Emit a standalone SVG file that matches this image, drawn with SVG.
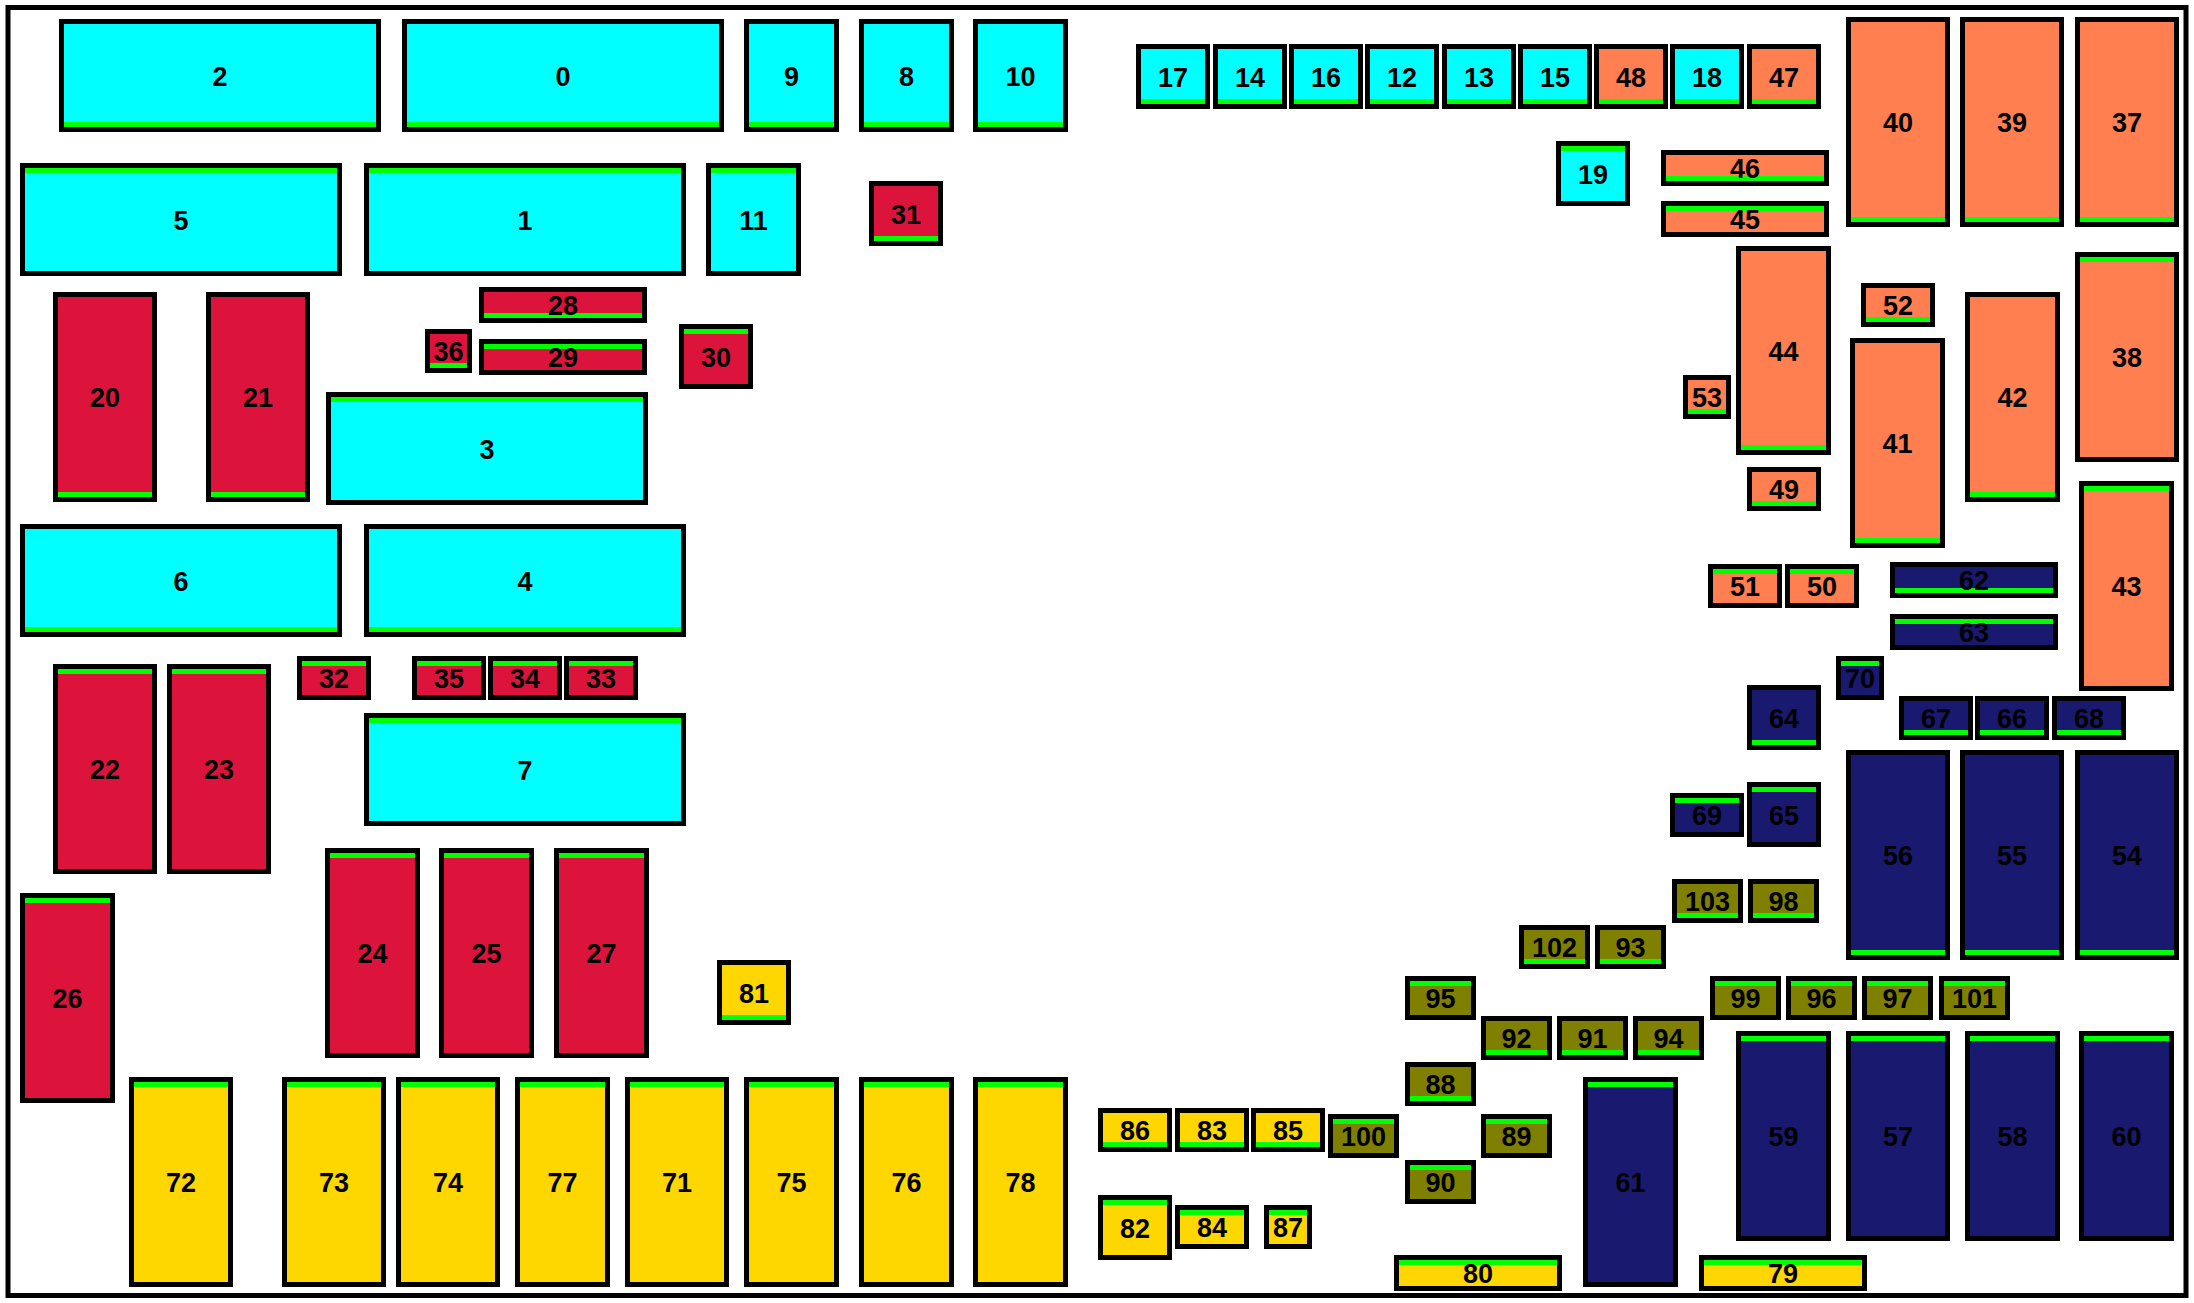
<svg xmlns="http://www.w3.org/2000/svg" width="2194" height="1303" viewBox="0 0 2194 1303">
<style>
.b{stroke:#000;stroke-width:5}
.c{fill:#00FFFF}.r{fill:#DC143C}.o{fill:#FF7F50}.n{fill:#191970}.v{fill:#808000}.y{fill:#FFD700}
.g{fill:#00FF00}
text{font-family:"Liberation Sans",Arial,sans-serif;font-weight:bold;font-size:27px;text-anchor:middle;fill:#000}
</style>
<rect x="0" y="0" width="2194" height="1303" fill="#fff"/>
<rect id="frame" x="8" y="7.5" width="2178" height="1288" fill="none" stroke="#000" stroke-width="5"/>
<g id="connectors"/>
<g id="nodes">
<g id="n2"><rect class="b c" x="61.5" y="21.5" width="317" height="108"/><rect class="g" x="64" y="122" width="312" height="5"/><text x="220" y="85.5">2</text></g>
<g id="n0"><rect class="b c" x="404.5" y="21.5" width="317" height="108"/><rect class="g" x="407" y="122" width="312" height="5"/><text x="563" y="85.5">0</text></g>
<g id="n9"><rect class="b c" x="746.5" y="21.5" width="90" height="108"/><rect class="g" x="749" y="122" width="85" height="5"/><text x="791.5" y="85.5">9</text></g>
<g id="n8"><rect class="b c" x="861.5" y="21.5" width="90" height="108"/><rect class="g" x="864" y="122" width="85" height="5"/><text x="906.5" y="85.5">8</text></g>
<g id="n10"><rect class="b c" x="975.5" y="21.5" width="90" height="108"/><rect class="g" x="978" y="122" width="85" height="5"/><text x="1020.5" y="85.5">10</text></g>
<g id="n5"><rect class="b c" x="22.5" y="165.5" width="317" height="108"/><rect class="g" x="25" y="168" width="312" height="5"/><text x="181" y="229.5">5</text></g>
<g id="n1"><rect class="b c" x="366.5" y="165.5" width="317" height="108"/><rect class="g" x="369" y="168" width="312" height="5"/><text x="525" y="229.5">1</text></g>
<g id="n11"><rect class="b c" x="708.5" y="165.5" width="90" height="108"/><rect class="g" x="711" y="168" width="85" height="5"/><text x="753.5" y="229.5">11</text></g>
<g id="n3"><rect class="b c" x="328.5" y="394.5" width="317" height="108"/><rect class="g" x="331" y="397" width="312" height="5"/><text x="487" y="458.5">3</text></g>
<g id="n6"><rect class="b c" x="22.5" y="526.5" width="317" height="108"/><rect class="g" x="25" y="627" width="312" height="5"/><text x="181" y="590.5">6</text></g>
<g id="n4"><rect class="b c" x="366.5" y="526.5" width="317" height="108"/><rect class="g" x="369" y="627" width="312" height="5"/><text x="525" y="590.5">4</text></g>
<g id="n7"><rect class="b c" x="366.5" y="715.5" width="317" height="108"/><rect class="g" x="369" y="718" width="312" height="5"/><text x="525" y="779.5">7</text></g>
<g id="n17"><rect class="b c" x="1138.5" y="46.5" width="69" height="60"/><rect class="g" x="1141" y="99" width="64" height="5"/><text x="1173" y="86.5">17</text></g>
<g id="n14"><rect class="b c" x="1215.5" y="46.5" width="69" height="60"/><rect class="g" x="1218" y="99" width="64" height="5"/><text x="1250" y="86.5">14</text></g>
<g id="n16"><rect class="b c" x="1291.5" y="46.5" width="69" height="60"/><rect class="g" x="1294" y="99" width="64" height="5"/><text x="1326" y="86.5">16</text></g>
<g id="n12"><rect class="b c" x="1367.5" y="46.5" width="69" height="60"/><rect class="g" x="1370" y="99" width="64" height="5"/><text x="1402" y="86.5">12</text></g>
<g id="n13"><rect class="b c" x="1444.5" y="46.5" width="69" height="60"/><rect class="g" x="1447" y="99" width="64" height="5"/><text x="1479" y="86.5">13</text></g>
<g id="n15"><rect class="b c" x="1520.5" y="46.5" width="69" height="60"/><rect class="g" x="1523" y="99" width="64" height="5"/><text x="1555" y="86.5">15</text></g>
<g id="n48"><rect class="b o" x="1596.5" y="46.5" width="69" height="60"/><rect class="g" x="1599" y="99" width="64" height="5"/><text x="1631" y="86.5">48</text></g>
<g id="n18"><rect class="b c" x="1672.5" y="46.5" width="69" height="60"/><rect class="g" x="1675" y="99" width="64" height="5"/><text x="1707" y="86.5">18</text></g>
<g id="n47"><rect class="b o" x="1749.5" y="46.5" width="69" height="60"/><rect class="g" x="1752" y="99" width="64" height="5"/><text x="1784" y="86.5">47</text></g>
<g id="n19"><rect class="b c" x="1558.5" y="143.5" width="69" height="60"/><rect class="g" x="1561" y="146" width="64" height="5"/><text x="1593" y="183.5">19</text></g>

<g id="n31"><rect class="b r" x="871.5" y="183.5" width="69" height="60"/><rect class="g" x="874" y="236" width="64" height="5"/><text x="906" y="223.5">31</text></g>
<g id="n20"><rect class="b r" x="55.5" y="294.5" width="99" height="205"/><rect class="g" x="58" y="492" width="94" height="5"/><text x="105" y="407">20</text></g>
<g id="n21"><rect class="b r" x="208.5" y="294.5" width="99" height="205"/><rect class="g" x="211" y="492" width="94" height="5"/><text x="258" y="407">21</text></g>
<g id="n28"><rect class="b r" x="481.5" y="289.5" width="163" height="31"/><rect class="g" x="484" y="313" width="158" height="5"/><text x="563" y="315">28</text></g>
<g id="n36"><rect class="b r" x="427.5" y="331.5" width="42" height="39"/><rect class="g" x="430" y="363" width="37" height="5"/><text x="448.5" y="361">36</text></g>
<g id="n29"><rect class="b r" x="481.5" y="341.5" width="163" height="31"/><rect class="g" x="484" y="344" width="158" height="5"/><text x="563" y="367">29</text></g>
<g id="n30"><rect class="b r" x="681.5" y="326.5" width="69" height="60"/><rect class="g" x="684" y="329" width="64" height="5"/><text x="716" y="366.5">30</text></g>
<g id="n22"><rect class="b r" x="55.5" y="666.5" width="99" height="205"/><rect class="g" x="58" y="669" width="94" height="5"/><text x="105" y="779">22</text></g>
<g id="n23"><rect class="b r" x="169.5" y="666.5" width="99" height="205"/><rect class="g" x="172" y="669" width="94" height="5"/><text x="219" y="779">23</text></g>
<g id="n32"><rect class="b r" x="299.5" y="658.5" width="69" height="39"/><rect class="g" x="302" y="661" width="64" height="5"/><text x="334" y="688">32</text></g>
<g id="n35"><rect class="b r" x="414.5" y="658.5" width="69" height="39"/><rect class="g" x="417" y="661" width="64" height="5"/><text x="449" y="688">35</text></g>
<g id="n34"><rect class="b r" x="490.5" y="658.5" width="69" height="39"/><rect class="g" x="493" y="661" width="64" height="5"/><text x="525" y="688">34</text></g>
<g id="n33"><rect class="b r" x="566.5" y="658.5" width="69" height="39"/><rect class="g" x="569" y="661" width="64" height="5"/><text x="601" y="688">33</text></g>
<g id="n24"><rect class="b r" x="327.5" y="850.5" width="90" height="205"/><rect class="g" x="330" y="853" width="85" height="5"/><text x="372.5" y="963">24</text></g>
<g id="n25"><rect class="b r" x="441.5" y="850.5" width="90" height="205"/><rect class="g" x="444" y="853" width="85" height="5"/><text x="486.5" y="963">25</text></g>
<g id="n27"><rect class="b r" x="556.5" y="850.5" width="90" height="205"/><rect class="g" x="559" y="853" width="85" height="5"/><text x="601.5" y="963">27</text></g>
<g id="n26"><rect class="b r" x="22.5" y="895.5" width="90" height="205"/><rect class="g" x="25" y="898" width="85" height="5"/><text x="67.5" y="1008">26</text></g>

<g id="n46"><rect class="b o" x="1663.5" y="152.5" width="163" height="31"/><rect class="g" x="1666" y="176" width="158" height="5"/><text x="1745" y="178">46</text></g>
<g id="n45"><rect class="b o" x="1663.5" y="203.5" width="163" height="31"/><rect class="g" x="1666" y="206" width="158" height="5"/><text x="1745" y="229">45</text></g>
<g id="n40"><rect class="b o" x="1848.5" y="19.5" width="99" height="205"/><rect class="g" x="1851" y="217" width="94" height="5"/><text x="1898" y="132">40</text></g>
<g id="n39"><rect class="b o" x="1962.5" y="19.5" width="99" height="205"/><rect class="g" x="1965" y="217" width="94" height="5"/><text x="2012" y="132">39</text></g>
<g id="n37"><rect class="b o" x="2077.5" y="19.5" width="99" height="205"/><rect class="g" x="2080" y="217" width="94" height="5"/><text x="2127" y="132">37</text></g>
<g id="n44"><rect class="b o" x="1738.5" y="248.5" width="90" height="204"/><rect class="g" x="1741" y="445" width="85" height="5"/><text x="1783.5" y="360.5">44</text></g>
<g id="n53"><rect class="b o" x="1685.5" y="377.5" width="43" height="39"/><rect class="g" x="1688" y="409" width="38" height="5"/><text x="1707" y="407">53</text></g>
<g id="n52"><rect class="b o" x="1863.5" y="285.5" width="69" height="39"/><rect class="g" x="1866" y="317" width="64" height="5"/><text x="1898" y="315">52</text></g>
<g id="n41"><rect class="b o" x="1852.5" y="340.5" width="90" height="205"/><rect class="g" x="1855" y="538" width="85" height="5"/><text x="1897.5" y="453">41</text></g>
<g id="n42"><rect class="b o" x="1967.5" y="294.5" width="90" height="205"/><rect class="g" x="1970" y="492" width="85" height="5"/><text x="2012.5" y="407">42</text></g>
<g id="n38"><rect class="b o" x="2077.5" y="254.5" width="99" height="205"/><rect class="g" x="2080" y="257" width="94" height="5"/><text x="2127" y="367">38</text></g>
<g id="n43"><rect class="b o" x="2081.5" y="483.5" width="90" height="205"/><rect class="g" x="2084" y="486" width="85" height="5"/><text x="2126.5" y="596">43</text></g>
<g id="n49"><rect class="b o" x="1749.5" y="469.5" width="69" height="39"/><rect class="g" x="1752" y="501" width="64" height="5"/><text x="1784" y="499">49</text></g>
<g id="n51"><rect class="b o" x="1710.5" y="566.5" width="69" height="39"/><rect class="g" x="1713" y="569" width="64" height="5"/><text x="1745" y="596">51</text></g>
<g id="n50"><rect class="b o" x="1787.5" y="566.5" width="69" height="39"/><rect class="g" x="1790" y="569" width="64" height="5"/><text x="1822" y="596">50</text></g>

<g id="n62"><rect class="b n" x="1892.5" y="564.5" width="163" height="31"/><rect class="g" x="1895" y="588" width="158" height="5"/><text x="1974" y="590">62</text></g>
<g id="n63"><rect class="b n" x="1892.5" y="616.5" width="163" height="31"/><rect class="g" x="1895" y="619" width="158" height="5"/><text x="1974" y="642">63</text></g>
<g id="n70"><rect class="b n" x="1838.5" y="658.5" width="43" height="39"/><rect class="g" x="1841" y="661" width="38" height="5"/><text x="1860" y="688">70</text></g>
<g id="n64"><rect class="b n" x="1749.5" y="687.5" width="69" height="60"/><rect class="g" x="1752" y="740" width="64" height="5"/><text x="1784" y="727.5">64</text></g>
<g id="n67"><rect class="b n" x="1901.5" y="698.5" width="69" height="39"/><rect class="g" x="1904" y="730" width="64" height="5"/><text x="1936" y="728">67</text></g>
<g id="n66"><rect class="b n" x="1977.5" y="698.5" width="69" height="39"/><rect class="g" x="1980" y="730" width="64" height="5"/><text x="2012" y="728">66</text></g>
<g id="n68"><rect class="b n" x="2054.5" y="698.5" width="69" height="39"/><rect class="g" x="2057" y="730" width="64" height="5"/><text x="2089" y="728">68</text></g>
<g id="n56"><rect class="b n" x="1848.5" y="752.5" width="99" height="205"/><rect class="g" x="1851" y="950" width="94" height="5"/><text x="1898" y="865">56</text></g>
<g id="n55"><rect class="b n" x="1962.5" y="752.5" width="99" height="205"/><rect class="g" x="1965" y="950" width="94" height="5"/><text x="2012" y="865">55</text></g>
<g id="n54"><rect class="b n" x="2077.5" y="752.5" width="99" height="205"/><rect class="g" x="2080" y="950" width="94" height="5"/><text x="2127" y="865">54</text></g>
<g id="n69"><rect class="b n" x="1672.5" y="795.5" width="69" height="39"/><rect class="g" x="1675" y="798" width="64" height="5"/><text x="1707" y="825">69</text></g>
<g id="n65"><rect class="b n" x="1749.5" y="784.5" width="69" height="60"/><rect class="g" x="1752" y="787" width="64" height="5"/><text x="1784" y="824.5">65</text></g>
<g id="n61"><rect class="b n" x="1585.5" y="1079.5" width="90" height="205"/><rect class="g" x="1588" y="1082" width="85" height="5"/><text x="1630.5" y="1192">61</text></g>
<g id="n59"><rect class="b n" x="1738.5" y="1033.5" width="90" height="205"/><rect class="g" x="1741" y="1036" width="85" height="5"/><text x="1783.5" y="1146">59</text></g>
<g id="n57"><rect class="b n" x="1848.5" y="1033.5" width="99" height="205"/><rect class="g" x="1851" y="1036" width="94" height="5"/><text x="1898" y="1146">57</text></g>
<g id="n58"><rect class="b n" x="1967.5" y="1033.5" width="90" height="205"/><rect class="g" x="1970" y="1036" width="85" height="5"/><text x="2012.5" y="1146">58</text></g>
<g id="n60"><rect class="b n" x="2081.5" y="1033.5" width="90" height="205"/><rect class="g" x="2084" y="1036" width="85" height="5"/><text x="2126.5" y="1146">60</text></g>

<g id="n103"><rect class="b v" x="1674.5" y="881.5" width="66" height="39"/><rect class="g" x="1677" y="913" width="61" height="5"/><text x="1707.5" y="911">103</text></g>
<g id="n98"><rect class="b v" x="1750.5" y="881.5" width="66" height="39"/><rect class="g" x="1753" y="913" width="61" height="5"/><text x="1783.5" y="911">98</text></g>
<g id="n102"><rect class="b v" x="1521.5" y="927.5" width="66" height="39"/><rect class="g" x="1524" y="959" width="61" height="5"/><text x="1554.5" y="957">102</text></g>
<g id="n93"><rect class="b v" x="1597.5" y="927.5" width="66" height="39"/><rect class="g" x="1600" y="959" width="61" height="5"/><text x="1630.5" y="957">93</text></g>
<g id="n95"><rect class="b v" x="1407.5" y="978.5" width="66" height="39"/><rect class="g" x="1410" y="981" width="61" height="5"/><text x="1440.5" y="1008">95</text></g>
<g id="n99"><rect class="b v" x="1712.5" y="978.5" width="66" height="39"/><rect class="g" x="1715" y="981" width="61" height="5"/><text x="1745.5" y="1008">99</text></g>
<g id="n96"><rect class="b v" x="1788.5" y="978.5" width="66" height="39"/><rect class="g" x="1791" y="981" width="61" height="5"/><text x="1821.5" y="1008">96</text></g>
<g id="n97"><rect class="b v" x="1864.5" y="978.5" width="66" height="39"/><rect class="g" x="1867" y="981" width="61" height="5"/><text x="1897.5" y="1008">97</text></g>
<g id="n101"><rect class="b v" x="1941.5" y="978.5" width="66" height="39"/><rect class="g" x="1944" y="981" width="61" height="5"/><text x="1974.5" y="1008">101</text></g>
<g id="n92"><rect class="b v" x="1483.5" y="1018.5" width="66" height="39"/><rect class="g" x="1486" y="1050" width="61" height="5"/><text x="1516.5" y="1048">92</text></g>
<g id="n91"><rect class="b v" x="1559.5" y="1018.5" width="66" height="39"/><rect class="g" x="1562" y="1050" width="61" height="5"/><text x="1592.5" y="1048">91</text></g>
<g id="n94"><rect class="b v" x="1635.5" y="1018.5" width="66" height="39"/><rect class="g" x="1638" y="1050" width="61" height="5"/><text x="1668.5" y="1048">94</text></g>
<g id="n88"><rect class="b v" x="1407.5" y="1064.5" width="66" height="39"/><rect class="g" x="1410" y="1096" width="61" height="5"/><text x="1440.5" y="1094">88</text></g>
<g id="n100"><rect class="b v" x="1330.5" y="1116.5" width="66" height="39"/><rect class="g" x="1333" y="1119" width="61" height="5"/><text x="1363.5" y="1146">100</text></g>
<g id="n89"><rect class="b v" x="1483.5" y="1116.5" width="66" height="39"/><rect class="g" x="1486" y="1119" width="61" height="5"/><text x="1516.5" y="1146">89</text></g>
<g id="n90"><rect class="b v" x="1407.5" y="1162.5" width="66" height="39"/><rect class="g" x="1410" y="1165" width="61" height="5"/><text x="1440.5" y="1192">90</text></g>

<g id="n81"><rect class="b y" x="719.5" y="962.5" width="69" height="60"/><rect class="g" x="722" y="1015" width="64" height="5"/><text x="754" y="1002.5">81</text></g>
<g id="n72"><rect class="b y" x="131.5" y="1079.5" width="99" height="205"/><rect class="g" x="134" y="1082" width="94" height="5"/><text x="181" y="1192">72</text></g>
<g id="n73"><rect class="b y" x="284.5" y="1079.5" width="99" height="205"/><rect class="g" x="287" y="1082" width="94" height="5"/><text x="334" y="1192">73</text></g>
<g id="n74"><rect class="b y" x="398.5" y="1079.5" width="99" height="205"/><rect class="g" x="401" y="1082" width="94" height="5"/><text x="448" y="1192">74</text></g>
<g id="n77"><rect class="b y" x="517.5" y="1079.5" width="90" height="205"/><rect class="g" x="520" y="1082" width="85" height="5"/><text x="562.5" y="1192">77</text></g>
<g id="n71"><rect class="b y" x="627.5" y="1079.5" width="99" height="205"/><rect class="g" x="630" y="1082" width="94" height="5"/><text x="677" y="1192">71</text></g>
<g id="n75"><rect class="b y" x="746.5" y="1079.5" width="90" height="205"/><rect class="g" x="749" y="1082" width="85" height="5"/><text x="791.5" y="1192">75</text></g>
<g id="n76"><rect class="b y" x="861.5" y="1079.5" width="90" height="205"/><rect class="g" x="864" y="1082" width="85" height="5"/><text x="906.5" y="1192">76</text></g>
<g id="n78"><rect class="b y" x="975.5" y="1079.5" width="90" height="205"/><rect class="g" x="978" y="1082" width="85" height="5"/><text x="1020.5" y="1192">78</text></g>
<g id="n86"><rect class="b y" x="1100.5" y="1110.5" width="69" height="39"/><rect class="g" x="1103" y="1142" width="64" height="5"/><text x="1135" y="1140">86</text></g>
<g id="n83"><rect class="b y" x="1177.5" y="1110.5" width="69" height="39"/><rect class="g" x="1180" y="1142" width="64" height="5"/><text x="1212" y="1140">83</text></g>
<g id="n85"><rect class="b y" x="1253.5" y="1110.5" width="69" height="39"/><rect class="g" x="1256" y="1142" width="64" height="5"/><text x="1288" y="1140">85</text></g>
<g id="n82"><rect class="b y" x="1100.5" y="1197.5" width="69" height="60"/><rect class="g" x="1103" y="1200" width="64" height="5"/><text x="1135" y="1237.5">82</text></g>
<g id="n84"><rect class="b y" x="1177.5" y="1207.5" width="69" height="39"/><rect class="g" x="1180" y="1210" width="64" height="5"/><text x="1212" y="1237">84</text></g>
<g id="n87"><rect class="b y" x="1266.5" y="1207.5" width="43" height="39"/><rect class="g" x="1269" y="1210" width="38" height="5"/><text x="1288" y="1237">87</text></g>
<g id="n80"><rect class="b y" x="1396.5" y="1257.5" width="163" height="31"/><rect class="g" x="1399" y="1260" width="158" height="5"/><text x="1478" y="1283">80</text></g>
<g id="n79"><rect class="b y" x="1701.5" y="1257.5" width="163" height="31"/><rect class="g" x="1704" y="1260" width="158" height="5"/><text x="1783" y="1283">79</text></g>
</g>
</svg>
